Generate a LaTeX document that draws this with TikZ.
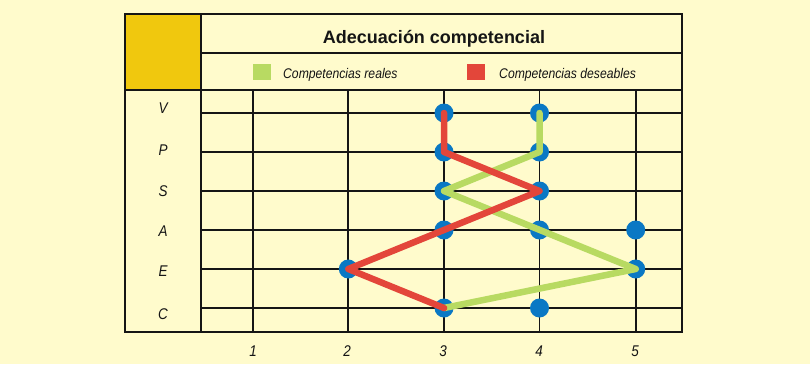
\documentclass[tikz,border=0pt]{standalone}
\usepackage{fontspec}
\setmainfont{Liberation Sans}
\newfontfamily\condfont[FakeStretch=0.87]{Liberation Sans}
\definecolor{bgyel}{HTML}{FFFBCC}
\definecolor{blockyel}{HTML}{F0C80E}
\definecolor{realgreen}{HTML}{B8DA62}
\definecolor{desred}{HTML}{E3463A}
\definecolor{dotblue}{HTML}{0A78C4}
\definecolor{ink}{HTML}{151515}
\begin{document}
\begin{tikzpicture}[x=1pt,y=-1pt,
  frame/.style={draw=ink,line width=2.4pt},
  gridline/.style={draw=ink,line width=1.8pt},
  dot/.style={circle,fill=dotblue,inner sep=0pt,minimum size=19pt},
  lbl/.style={font=\condfont\itshape\fontsize{15.5}{15.5}\selectfont,text=ink,inner sep=0pt},
  legtxt/.style={font=\condfont\itshape\fontsize{14}{14}\selectfont,text=ink,inner sep=0pt,anchor=base west},
  realline/.style={draw=realgreen,line width=6.5pt,line cap=round,line join=round},
  desline/.style={draw=desred,line width=6.5pt,line cap=round,line join=round}]
% background
\fill[bgyel] (0,0) rectangle (810,364);
\useasboundingbox (0,0) rectangle (810,364);
% yellow block
\fill[blockyel] (125,14) rectangle (201,90);
% grid lines
\foreach \yy in {113,152,191,230,269,308}
  \draw[gridline] (201,\yy) -- (682,\yy);
\foreach \xx in {252.7,348.3,444,539.5,635.7}
  \draw[gridline] (\xx,90) -- (\xx,332);
% dividers
\draw[gridline] (201,14) -- (201,332);
\draw[gridline] (201,53) -- (682,53);
\draw[gridline] (125,90) -- (682,90);
% outer frame
\draw[frame] (125,14) rectangle (682,332);
% title
\node[font=\bfseries\fontsize{18}{18}\selectfont,text=ink,anchor=base,inner sep=0pt] (title) at (434,43) {Adecuación competencial};
% legend
\node[fill=realgreen,minimum width=18pt,minimum height=16pt,inner sep=0pt] (sqg) at (262,72) {};
\node[legtxt] (tg) at (283,78) {Competencias reales};
\node[fill=desred,minimum width=18pt,minimum height=16pt,inner sep=0pt] (sqr) at (476,72) {};
\node[legtxt] (tr) at (499,78) {Competencias deseables};
% row labels
\node[lbl] (lV) at (163,108) {V};
\node[lbl] (lP) at (163,150) {P};
\node[lbl] (lS) at (163,191) {S};
\node[lbl] (lA) at (163,231) {A};
\node[lbl] (lE) at (163,271) {E};
\node[lbl] (lC) at (163,314) {C};
% column labels
\node[lbl] (n1) at (253,351) {1};
\node[lbl] (n2) at (347,351) {2};
\node[lbl] (n3) at (443,351) {3};
\node[lbl] (n4) at (539,351) {4};
\node[lbl] (n5) at (635,351) {5};
% dots
\node[dot] (V3) at (444,113) {};
\node[dot] (V4) at (539.5,113) {};
\node[dot] (P3) at (444,152) {};
\node[dot] (P4) at (539.5,152) {};
\node[dot] (S3) at (444,191) {};
\node[dot] (S4) at (539.5,191) {};
\node[dot] (A3) at (444,230) {};
\node[dot] (A4) at (539.5,230) {};
\node[dot] (A5) at (635.7,230) {};
\node[dot] (E2) at (348.3,269) {};
\node[dot] (E5) at (635.7,269) {};
\node[dot] (C3) at (444,308) {};
\node[dot] (C4) at (539.5,308) {};
% profiles
\draw[realline] (V4.center) -- (P4.center) -- (S3.center) -- (E5.center) -- (C3.center);
\draw[desline] (V3.center) -- (P3.center) -- (S4.center) -- (E2.center) -- (C3.center);
\end{tikzpicture}
\end{document}
